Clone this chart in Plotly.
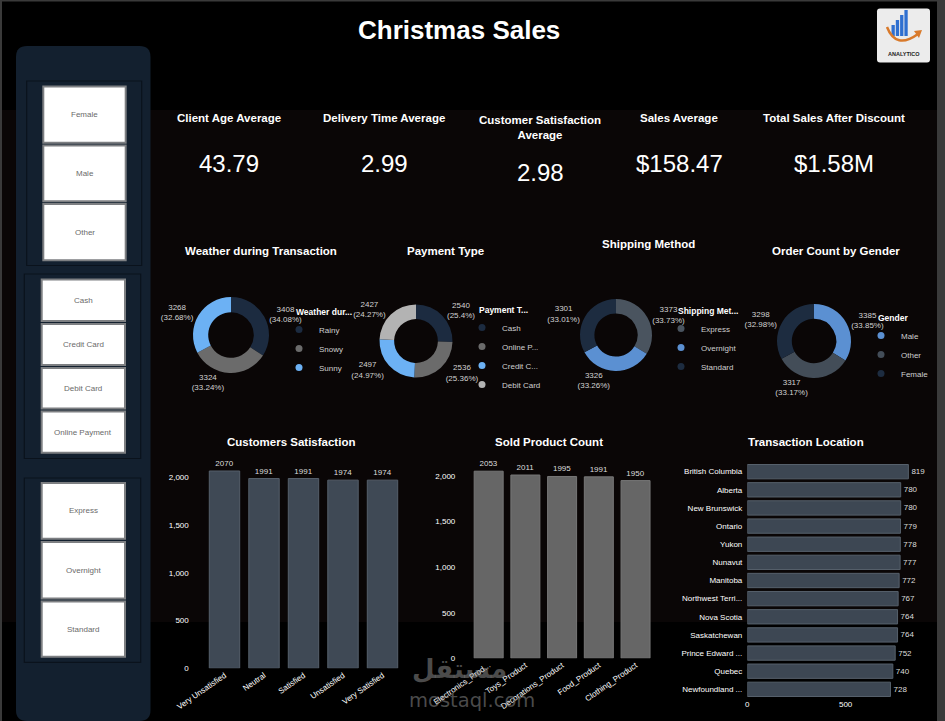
import plotly.graph_objects as go

W, H = 945, 721
FONT = "Liberation Sans, Arial, sans-serif"


def px(x):
    return x / W


def py(y):
    return 1 - y / H


# ---------------- data ----------------
weather_labels = ["Rainy", "Snowy", "Sunny"]
weather_values = [3408, 3324, 3268]
weather_colors = ["#1c2b40", "#6b6b6b", "#6cb1f4"]

payment_labels = ["Cash", "Online Payment", "Credit Card", "Debit Card"]
payment_legend = ["Cash", "Online P...", "Credit C...", "Debit Card"]
payment_values = [2540, 2536, 2497, 2427]
payment_colors = ["#1c2b40", "#6b6b6b", "#6cb1f4", "#b3b3b3"]

shipping_labels = ["Express", "Overnight", "Standard"]
shipping_values = [3373, 3326, 3301]
shipping_colors = ["#4a545f", "#5b90d2", "#1d2c40"]

gender_labels = ["Male", "Other", "Female"]
gender_values = [3385, 3317, 3298]
gender_colors = ["#5b90d2", "#434d58", "#1d2c40"]

satisfaction_labels = ["Very Unsatisfied", "Neutral", "Satisfied", "Unsatisfied", "Very Satisfied"]
satisfaction_values = [2070, 1991, 1991, 1974, 1974]

product_labels = ["Electronics_Product", "Toys_Product", "Decorations_Product", "Food_Product", "Clothing_Product"]
product_ticktext = ["Electronics_Prod...", "Toys_Product", "Decorations_Product", "Food_Product", "Clothing_Product"]
product_values = [2053, 2011, 1995, 1991, 1950]

location_labels = ["British Columbia", "Alberta", "New Brunswick", "Ontario", "Yukon", "Nunavut",
                   "Manitoba", "Northwest Territories", "Nova Scotia", "Saskatchewan",
                   "Prince Edward Island", "Quebec", "Newfoundland and Labrador"]
location_ticktext = ["British Columbia", "Alberta", "New Brunswick", "Ontario", "Yukon", "Nunavut",
                     "Manitoba", "Northwest Terri...", "Nova Scotia", "Saskatchewan",
                     "Prince Edward ...", "Quebec", "Newfoundland ..."]
location_values = [819, 780, 780, 779, 778, 777, 772, 767, 764, 764, 752, 740, 728]

kpi_titles = ["Client Age Average", "Delivery Time Average", "Customer Satisfaction<br>Average",
              "Sales Average", "Total Sales After Discount"]
kpi_values = ["43.79", "2.99", "2.98", "$158.47", "$1.58M"]

slicer_gender = ["Female", "Male", "Other"]
slicer_payment = ["Cash", "Credit Card", "Debit Card", "Online Payment"]
slicer_shipping = ["Express", "Overnight", "Standard"]

# ---------------- figure ----------------
fig = go.Figure()


def add_donut(labels, values, colors, cx, cy, r, legend_name, legend_text=None):
    fig.add_trace(go.Pie(
        labels=labels, values=values, sort=False, direction="clockwise", rotation=0,
        hole=0.6, marker=dict(colors=colors, line=dict(width=0)),
        domain=dict(x=[px(cx - r), px(cx + r)], y=[py(cy + r), py(cy - r)]),
        textposition="outside", texttemplate="%{value}<br>(%{percent:.2~%})",
        textfont=dict(size=8, color="#d2d2d2", family=FONT),
        showlegend=False, automargin=False,
    ))
    names = legend_text if legend_text else labels
    for name, col in zip(names, colors):
        fig.add_trace(go.Scatter(
            x=[0], y=[0], mode="markers", name=name,
            marker=dict(color=col, size=7, symbol="circle"),
            xaxis="x4", yaxis="y4", legend=legend_name, showlegend=True,
            hoverinfo="skip",
        ))


add_donut(weather_labels, weather_values, weather_colors, 231, 335, 38, "legend")
add_donut(payment_labels, payment_values, payment_colors, 416, 341, 36.5, "legend2", payment_legend)
add_donut(shipping_labels, shipping_values, shipping_colors, 616, 335, 36, "legend3")
add_donut(gender_labels, gender_values, gender_colors, 814, 341, 37, "legend4")

# bars
fig.add_trace(go.Bar(
    x=satisfaction_labels, y=satisfaction_values, width=0.77,
    marker=dict(color="#3f4955", line=dict(color="#56606b", width=1)),
    text=satisfaction_values, textposition="outside", cliponaxis=False,
    textfont=dict(size=8, color="#dddddd", family=FONT),
    xaxis="x", yaxis="y", showlegend=False,
))
fig.add_trace(go.Bar(
    x=product_labels, y=product_values, width=0.79,
    marker=dict(color="#666666", line=dict(color="#777777", width=1)),
    text=product_values, textposition="outside", cliponaxis=False,
    textfont=dict(size=8, color="#dddddd", family=FONT),
    xaxis="x2", yaxis="y2", showlegend=False,
))
fig.add_trace(go.Bar(
    x=location_values, y=location_labels, orientation="h", width=0.79,
    marker=dict(color="#3d4753", line=dict(color="#56606b", width=1)),
    text=location_values, textposition="outside", cliponaxis=False,
    textfont=dict(size=8, color="#dddddd", family=FONT),
    xaxis="x3", yaxis="y3", showlegend=False,
))

tickf = dict(size=8, color="#ffffff", family=FONT)
common = dict(showgrid=False, zeroline=False, showline=False, ticks="", tickfont=tickf, automargin=False)

shapes = []
# background tint band
shapes.append(dict(type="rect", xref="paper", yref="paper", x0=0, x1=1, y0=py(622), y1=py(110),
                   fillcolor="#0a0606", line=dict(width=0), layer="below"))
# frame strips
shapes.append(dict(type="rect", xref="paper", yref="paper", x0=px(937), x1=1, y0=0, y1=1,
                   fillcolor="#3a3a3a", line=dict(width=0), layer="below"))
shapes.append(dict(type="rect", xref="paper", yref="paper", x0=0, x1=px(2), y0=0, y1=1,
                   fillcolor="#3a3a3a", line=dict(width=0), layer="below"))
shapes.append(dict(type="rect", xref="paper", yref="paper", x0=0, x1=1, y0=py(1.5), y1=1,
                   fillcolor="#3a3a3a", line=dict(width=0), layer="below"))


def rounded_path(x0, y0, x1, y1, r):
    pts = [
        ("M", x0, y0 + r), ("Q", x0, y0, x0 + r, y0), ("L", x1 - r, y0), ("Q", x1, y0, x1, y0 + r),
        ("L", x1, y1 - r), ("Q", x1, y1, x1 - r, y1), ("L", x0 + r, y1), ("Q", x0, y1, x0, y1 - r),
    ]
    s = ""
    for p in pts:
        cmd = p[0]
        vals = p[1:]
        coords = []
        for i in range(0, len(vals), 2):
            coords.append(f"{px(vals[i]):.5f},{py(vals[i + 1]):.5f}")
        s += cmd + " " + " ".join(coords) + " "
    return s + "Z"


# sidebar
shapes.append(dict(type="path", xref="paper", yref="paper", path=rounded_path(16, 46, 150.5, 721, 11),
                   fillcolor="#13202f", line=dict(width=0), layer="below"))
groups = [(26.7, 81, 141.7, 265.5), (24.3, 274, 140.7, 458.5), (24.3, 478, 140.7, 662.3)]
for gx0, gy0, gx1, gy1 in groups:
    shapes.append(dict(type="rect", xref="paper", yref="paper", x0=px(gx0), x1=px(gx1), y0=py(gy1), y1=py(gy0),
                       fillcolor="rgba(0,0,0,0)", line=dict(color="#0a121c", width=1.2), layer="below"))

buttons = [
    (slicer_gender, 43.3, 125.7, [(86.4, 142.8), (145.4, 201.3), (204, 260.3)]),
    (slicer_payment, 41.7, 125, [(279.4, 321), (324, 365), (368, 408.6), (411.6, 452.8)]),
    (slicer_shipping, 41.7, 125, [(483, 538.7), (542, 598.5), (601.6, 656.7)]),
]


def ann(text, x, y, size, color, family=FONT):
    return dict(text=text, x=px(x), y=py(y), xref="paper", yref="paper", showarrow=False,
                xanchor="center", yanchor="middle", font=dict(size=size, color=color, family=family))


annotations = []
for names, bx0, bx1, ys in buttons:
    for name, (by0, by1) in zip(names, ys):
        shapes.append(dict(type="rect", xref="paper", yref="paper", x0=px(bx0), x1=px(bx1), y0=py(by1), y1=py(by0),
                           fillcolor="#ffffff", line=dict(color="#7d7f82", width=2), layer="below"))
        annotations.append(ann(name, (bx0 + bx1) / 2, (by0 + by1) / 2, 8, "#6a6a6a"))

# logo
shapes.append(dict(type="path", xref="paper", yref="paper", path=rounded_path(877, 8.5, 930, 62.5, 3),
                   fillcolor="#ececec", line=dict(width=0)))
for (lx0, lx1, ly0) in [(891.5, 894.8, 25), (895.8, 899.1, 20), (900.1, 903.4, 15), (904.4, 907.7, 10)]:
    shapes.append(dict(type="rect", xref="paper", yref="paper", x0=px(lx0), x1=px(lx1), y0=py(36), y1=py(ly0),
                       fillcolor="#2e6fd0", line=dict(width=0)))
shapes.append(dict(type="path", xref="paper", yref="paper",
                   path=f"M {px(887):.5f},{py(27):.5f} Q {px(896):.5f},{py(50):.5f} {px(918):.5f},{py(34):.5f}",
                   line=dict(color="#d97a2b", width=2.5)))
shapes.append(dict(type="path", xref="paper", yref="paper",
                   path=f"M {px(914):.5f},{py(31):.5f} L {px(922):.5f},{py(30):.5f} L {px(919):.5f},{py(38):.5f} Z",
                   fillcolor="#d97a2b", line=dict(width=0)))
annotations.append(ann("<b>ANALYTICO</b>", 903.5, 54, 5.5, "#222222"))

# title
annotations.append(ann("<b>Christmas Sales</b>", 459, 30, 26, "#ffffff"))

# KPI cards
kpi_x = [229, 384, 540, 679, 834]
kpi_ty = [118, 118, 127, 118, 118]
kpi_vy = [163, 163, 172, 163, 163]
for t, v, x, ty, vy in zip(kpi_titles, kpi_values, kpi_x, kpi_ty, kpi_vy):
    annotations.append(ann(f"<b>{t}</b>", x, ty, 11.5, "#ffffff"))
    annotations.append(ann(v, x, vy, 24, "#ffffff"))

# chart titles
chart_titles = [("Weather during Transaction", 261, 251), ("Payment Type", 445, 251),
                ("Shipping Method", 648, 244), ("Order Count by Gender", 836, 251),
                ("Customers Satisfaction", 291, 442), ("Sold Product Count", 549, 442),
                ("Transaction Location", 806, 442)]
for t, x, y in chart_titles:
    annotations.append(ann(f"<b>{t}</b>", x, y, 11.5, "#ffffff"))

# watermark
annotations.append(ann("<b>مستقل</b>", 459, 669, 26, "rgba(150,150,150,0.5)", "DejaVu Sans"))
annotations.append(ann("mostaql.com", 472, 700, 19.5, "rgba(150,150,150,0.5)", "DejaVu Sans"))


def legend_cfg(x, y, title):
    return dict(x=px(x), y=py(y), xanchor="left", yanchor="top", bgcolor="rgba(0,0,0,0)",
                font=dict(size=8, color="#cfcfcf", family=FONT), itemwidth=30, tracegroupgap=0,
                indentation=-15,
                title=dict(text=f"<b>{title}</b>", font=dict(size=8.5, color="#ffffff", family=FONT)),
                borderwidth=0)


fig.update_layout(
    template="none",
    width=W, height=H, margin=dict(l=0, r=0, t=0, b=0, autoexpand=False),
    paper_bgcolor="#000000", plot_bgcolor="rgba(0,0,0,0)",
    font=dict(family=FONT, color="#ffffff"),
    shapes=shapes, annotations=annotations,
    legend=legend_cfg(294, 304, "Weather dur..."),
    legend2=legend_cfg(477, 302, "Payment T..."),
    legend3=legend_cfg(676, 303, "Shipping Met..."),
    legend4=legend_cfg(876, 310, "Gender"),
    xaxis=dict(domain=[px(204.75), px(402.25)], anchor="y", tickangle=-35, **common),
    yaxis=dict(domain=[py(668.3), py(458.6)], anchor="x", range=[0, 2200], dtick=500, tickformat=",",
               ticklabelstandoff=15, **common),
    xaxis2=dict(domain=[px(470.3), px(653.9)], anchor="y2", tickangle=-35,
                tickvals=product_labels, ticktext=product_ticktext, **common),
    yaxis2=dict(domain=[py(658.3), py(457.8)], anchor="x2", range=[0, 2200], dtick=500, tickformat=",",
                ticklabelstandoff=14, **common),
    xaxis3=dict(domain=[px(747.3), px(924.3)], anchor="y3", range=[0, 900], tickvals=[0, 500], **common),
    yaxis3=dict(domain=[py(698.4), py(462.6)], anchor="x3", autorange="reversed",
                tickvals=location_labels, ticktext=location_ticktext, ticklabelstandoff=4, **common),
    xaxis4=dict(domain=[0, 0.01], anchor="y4", range=[5, 6], visible=False),
    yaxis4=dict(domain=[0, 0.01], anchor="x4", range=[5, 6], visible=False),
)

fig.write_html("out.html")
